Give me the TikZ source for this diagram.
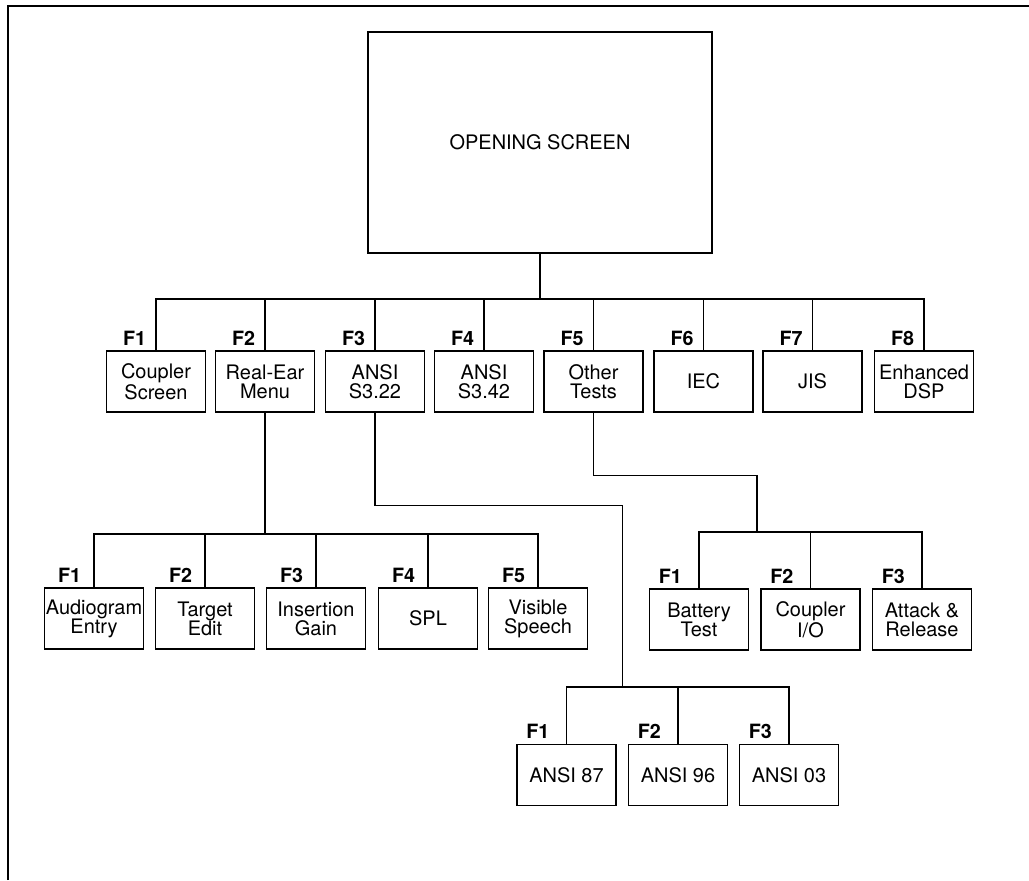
\documentclass[tikz,border=0pt]{standalone}
\usepackage{fontspec}
\setmainfont{TeX Gyre Heros}
\usepackage{tikz}

\tikzset{
  menubox/.style={draw, line width=0.8pt, minimum width=2.475cm,
    minimum height=1.525cm, inner sep=0pt, align=center,
    font=\fontsize{14.2}{13.5}\selectfont},
  fkey/.style={anchor=base west, xshift=#1, yshift=0.125cm, inner sep=0pt,
    font=\fontsize{14}{14}\selectfont\bfseries},
  fkey/.default=0.42cm,
  wire/.style={line width=0.8pt}
}

\begin{document}
\begin{tikzpicture}[x=0.025cm, y=-0.025cm]
  \useasboundingbox (0,0) rectangle (1029,880);
  % cropped outer frame
  \draw[line width=1.5pt] (8.3,880) -- (8.3,5.7) -- (1029,5.7);

  \node[menubox, minimum width=8.6cm, minimum height=5.525cm] (open) at (540,142.5) {OPENING SCREEN};

  % first row of keys
  \node[menubox] (cs)   at (156,381.5)   {Coupler\\Screen};
  \node[menubox] (rem)  at (265,381.5)   {Real-Ear\\Menu};
  \node[menubox] (s322) at (375,381.5)   {ANSI\\S3.22};
  \node[menubox] (s342) at (484,381.5)   {ANSI\\S3.42};
  \node[menubox] (ot)   at (593.5,381.5) {Other\\Tests};
  \node[menubox] (iec)  at (703.5,381.5) {IEC};
  \node[menubox] (jis)  at (812.5,381.5) {JIS};
  \node[menubox] (dsp)  at (924,381.5)   {Enhanced\\DSP};

  % real-ear menu
  \node[menubox] (aud) at (94,618.5)  {Audiogram\\Entry};
  \node[menubox] (tgt) at (205,618.5) {Target\\Edit};
  \node[menubox] (ins) at (316,618.5) {Insertion\\Gain};
  \node[menubox] (spl) at (428,618.5) {SPL};
  \node[menubox] (vis) at (538,618.5) {Visible\\Speech};

  % other tests
  \node[menubox] (bat) at (699,619.5)   {Battery\\Test};
  \node[menubox] (cio) at (810.5,619.5) {Coupler\\I/O};
  \node[menubox] (atr) at (922,619.5)   {Attack \&\\Release};

  % ansi s3.22
  \node[menubox] (a87) at (566.5,775) {ANSI 87};
  \node[menubox] (a96) at (678,775)   {ANSI 96};
  \node[menubox] (a03) at (789,775)   {ANSI 03};

  % function keys
  \foreach \n/\k in {cs/1,rem/2,s322/3,s342/4,ot/5,iec/6,jis/7,dsp/8}
    \node[fkey] (f\n) at (\n.north west) {F\k};
  \foreach \n/\k in {aud/1,tgt/2,ins/3,spl/4,vis/5}
    \node[fkey=0.35cm] (f\n) at (\n.north west) {F\k};
  \foreach \n/\k in {bat/1,cio/2,atr/3,a87/1,a96/2,a03/3}
    \node[fkey=0.24cm] (f\n) at (\n.north west) {F\k};

  % connectors
  \coordinate (b1) at (540,299);
  \coordinate (b2) at (265,534);
  \coordinate (k3) at (622.5,505.5);
  \coordinate (b3) at (622.5,687);
  \coordinate (k4) at (757,475.5);
  \coordinate (b4) at (757,532);

  \draw[wire] (open) -- (b1);
  \foreach \n in {cs,rem,s322,s342,ot,iec,jis,dsp}
    \draw[wire] (b1) -| (\n.north);
  \draw[wire] (rem) -- (b2);
  \foreach \n in {aud,tgt,ins,spl,vis}
    \draw[wire] (b2) -| (\n.north);
  \draw[wire] (ot) |- (k4) -- (b4);
  \foreach \n in {bat,cio,atr}
    \draw[wire] (b4) -| (\n.north);
  \draw[wire] (s322) |- (k3) -- (b3);
  \foreach \n in {a87,a96,a03}
    \draw[wire] (b3) -| (\n.north);
\end{tikzpicture}
\end{document}
